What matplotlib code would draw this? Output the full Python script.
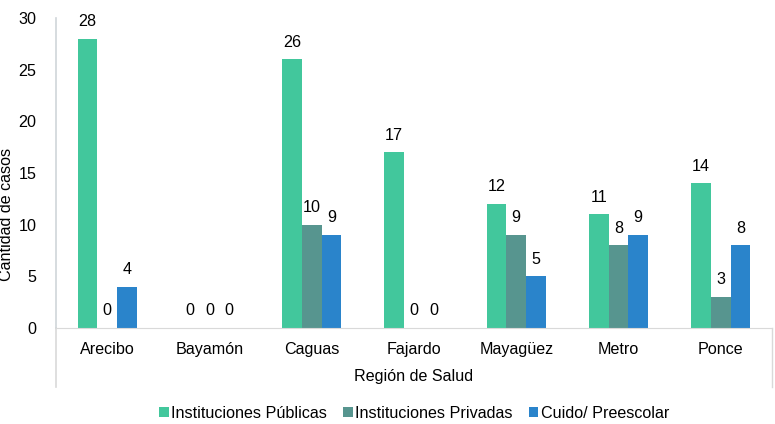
import numpy as np
import matplotlib
matplotlib.use('Agg')
import matplotlib.pyplot as plt
from matplotlib.lines import Line2D

plt.rcParams['font.family'] = ['Liberation Sans', 'DejaVu Sans']

regiones = ["Arecibo", "Bayamón", "Caguas", "Fajardo", "Mayagüez", "Metro", "Ponce"]
publicas = [28, 0, 26, 17, 12, 11, 14]
privadas = [0, 0, 10, 0, 9, 8, 3]
cuido = [4, 0, 9, 0, 5, 9, 8]

series = [
    ("Instituciones Públicas", publicas, "#42C79C"),
    ("Instituciones Privadas", privadas, "#57958F"),
    ("Cuido/ Preescolar", cuido, "#2A84CB"),
]

fs = 11.6

fig = plt.figure(figsize=(7.75, 4.24), dpi=100)
ax = fig.add_axes([0.0723, 0.2264, 0.9237, 0.7311])

x = np.arange(len(regiones))
width = 0.193
for i, (label, vals, color) in enumerate(series):
    pos = x + (i - 1) * width
    ax.bar(pos, vals, width, color=color, label=label)
    for px, v in zip(pos, vals):
        ax.annotate(str(v), (px, v), xytext=(0, 7), textcoords='offset points',
                    ha='center', va='bottom', fontsize=fs)

ax.set_xlim(-0.5, len(regiones) - 0.5)
ax.set_ylim(0, 30)
ax.set_yticks([0, 5, 10, 15, 20, 25, 30])
ax.set_xticks(x)
ax.set_xticklabels(regiones)
ax.tick_params(axis='both', length=0, labelsize=fs)
ax.tick_params(axis='y', pad=14)
ax.tick_params(axis='x', pad=10)

for s in ['top', 'right']:
    ax.spines[s].set_visible(False)
ax.spines['left'].set_color('#D0D5D9')
ax.spines['bottom'].set_color('#D9D9D9')
ax.spines['left'].set_linewidth(1.2)

# extended category axis frame (Excel style)
ax.add_line(Line2D([0, 0], [0, -0.19], transform=ax.transAxes, color='#D9D9D9',
                   lw=1.2, clip_on=False))
ax.add_line(Line2D([1, 1], [0, -0.19], transform=ax.transAxes, color='#D9D9D9',
                   lw=1.0, clip_on=False))

ax.set_xlabel("Región de Salud", fontsize=fs, labelpad=9)
ax.set_ylabel("Cantidad de casos", fontsize=fs)
ax.yaxis.set_label_coords(-0.059, 0.365)

ax.legend(loc='center', bbox_to_anchor=(0.5, -0.275), ncol=3, frameon=False,
          fontsize=fs, handlelength=0.6, handleheight=0.6, handletextpad=0.15,
          columnspacing=1.0)

fig.savefig("out.png", dpi=100)
